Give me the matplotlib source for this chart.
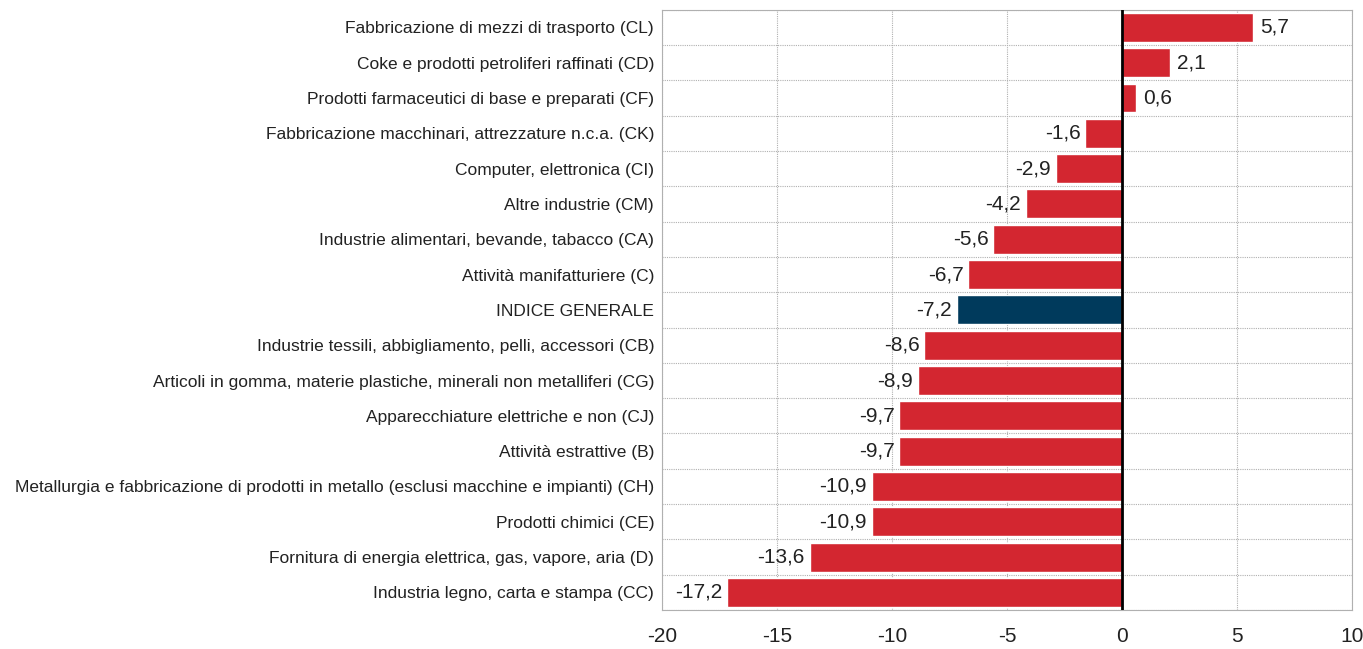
import numpy as np
import matplotlib.pyplot as plt
from matplotlib.ticker import MultipleLocator

categories = [
    'Fabbricazione di mezzi di trasporto (CL)',
    'Coke e prodotti petroliferi raffinati (CD)',
    'Prodotti farmaceutici di base e preparati (CF)',
    'Fabbricazione macchinari, attrezzature n.c.a. (CK)',
    'Computer, elettronica (CI)',
    'Altre industrie (CM)',
    'Industrie alimentari, bevande, tabacco (CA)',
    'Attività manifatturiere (C)',
    'INDICE GENERALE',
    'Industrie tessili, abbigliamento, pelli, accessori (CB)',
    'Articoli in gomma, materie plastiche, minerali non metalliferi (CG)',
    'Apparecchiature elettriche e non (CJ)',
    'Attività estrattive (B)',
    'Metallurgia e fabbricazione di prodotti in metallo (esclusi macchine e impianti) (CH)',
    'Prodotti chimici (CE)',
    'Fornitura di energia elettrica, gas, vapore, aria (D)',
    'Industria legno, carta e stampa (CC)',
]
values = [5.7, 2.1, 0.6, -1.6, -2.9, -4.2, -5.6, -6.7, -7.2, -8.6, -8.9,
          -9.7, -9.7, -10.9, -10.9, -13.6, -17.2]
highlight = 'INDICE GENERALE'

plt.rcParams['font.family'] = ['Liberation Sans Narrow', 'Liberation Sans', 'DejaVu Sans']
plt.rcParams['axes.unicode_minus'] = False

fig, ax = plt.subplots(figsize=(13.63, 6.49), dpi=100)
fig.subplots_adjust(left=0.486, right=0.992, top=0.985, bottom=0.06)

y = np.arange(len(categories))
colors = ['#003A5C' if c == highlight else '#D32630' for c in categories]
ax.barh(y, values, height=0.82, color=colors, edgecolor='white', linewidth=1, zorder=3)

for yi, v in zip(y, values):
    txt = f'{v:.1f}'.replace('.', ',')
    if v >= 0:
        ax.text(v + 0.3, yi, txt, va='center', ha='left', fontsize=15, color='#222222')
    else:
        ax.text(v - 0.2, yi, txt, va='center', ha='right', fontsize=15, color='#222222')

ax.axvline(0, color='black', linewidth=2, zorder=4)

ax.set_xlim(-20, 10)
ax.set_ylim(len(categories) - 0.5, -0.5)
ax.set_yticks(y)
ax.set_yticklabels(categories, fontsize=12.5, color='#222222')
ax.xaxis.set_major_locator(MultipleLocator(5))
ax.set_yticks(np.arange(-0.5, len(categories), 1), minor=True)
ax.tick_params(axis='x', labelsize=15, length=0, pad=12, labelcolor='#222222')
ax.tick_params(axis='y', which='both', length=0, pad=6)

ax.grid(True, axis='x', which='major', color='#b0b0b0', linestyle=(0, (1, 1)), linewidth=0.8, zorder=0)
ax.grid(True, axis='y', which='minor', color='#b0b0b0', linestyle=(0, (1, 1)), linewidth=0.8, zorder=0)
for s in ax.spines.values():
    s.set_color('#b0b0b0')
    s.set_linestyle((0, (1, 1)))
    s.set_linewidth(0.8)

fig.savefig('out.png', dpi=100)
